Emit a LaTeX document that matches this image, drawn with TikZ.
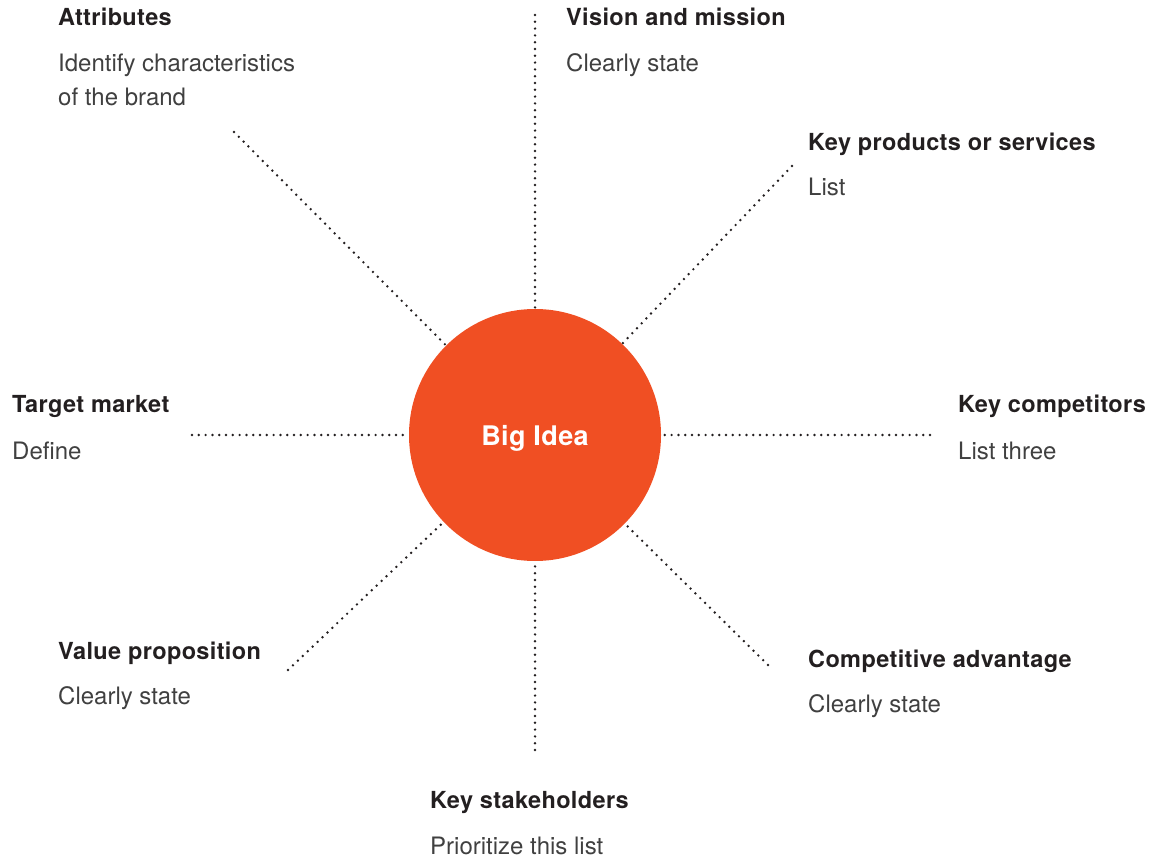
\documentclass[tikz,border=0pt]{standalone}
\usepackage{fontspec}
\setmainfont{TeX Gyre Heros}
\newfontfamily\headfont[LetterSpace=1.5]{TeX Gyre Heros}
\definecolor{bigorange}{HTML}{F04F23}
\definecolor{headcol}{HTML}{231F20}
\definecolor{bodycol}{HTML}{404040}
\definecolor{dotcol}{HTML}{231F20}
\begin{document}
\begin{tikzpicture}[x=1pt,y=-1pt,
  head/.style={anchor=base west,inner sep=0pt,text=headcol,font=\headfont\fontsize{23.5}{28}\selectfont\bfseries},
  body/.style={anchor=base west,inner sep=0pt,text=bodycol,font=\fontsize{24}{34}\selectfont},
  spoke/.style={draw=dotcol,line width=2.7pt,line cap=round,dash pattern=on 0pt off 6.8pt},
  bigcircle/.style={circle,fill=bigorange,minimum size=252pt,inner sep=0pt,outer sep=1pt},
  bigtext/.style={inner sep=0pt,anchor=base,text=white,font=\headfont\fontsize{27}{32}\selectfont\bfseries}]
\useasboundingbox (0,0) rectangle (1154,858);

% outer ends of the spokes
\coordinate (pN) at (535,15);
\coordinate (pS) at (535,750);
\coordinate (pW) at (192,435);
\coordinate (pE) at (930,435);
\coordinate (pNW) at (234,132);
\coordinate (pNE) at (792,166);
\coordinate (pSW) at (288,670);
\coordinate (pSE) at (768,665);

\node[bigcircle] (big) at (535,435) {};

\foreach \p in {pN,pS,pW,pE,pNW,pNE,pSW,pSE}{
  \draw[spoke] (\p) -- (big);
}
\node[bigtext] (bigtxt) at (535,446) {Big Idea};

% labels
\node[head] (attrH) at (58,26) {Attributes};
\node[body] (attrB1) at (58,72) {Identify characteristics};
\node[body] (attrB2) at (58,106) {of the brand};

\node[head] (visH) at (566,26) {Vision and mission};
\node[body] (visB) at (566,72) {Clearly state};

\node[head] (prodH) at (808,151) {Key products or services};
\node[body] (prodB) at (808,196) {List};

\node[head] (tgtH) at (12,413) {Target market};
\node[body] (tgtB) at (12,459) {Define};

\node[head] (compH) at (958,413) {Key competitors};
\node[body] (compB) at (958,459) {List three};

\node[head] (valH) at (58,659) {Value proposition};
\node[body] (valB) at (58,704) {Clearly state};

\node[head] (advH) at (808,667) {Competitive advantage};
\node[body] (advB) at (808,712) {Clearly state};

\node[head] (stkH) at (430,808) {Key stakeholders};
\node[body] (stkB) at (430,854) {Prioritize this list};
\end{tikzpicture}
\end{document}
